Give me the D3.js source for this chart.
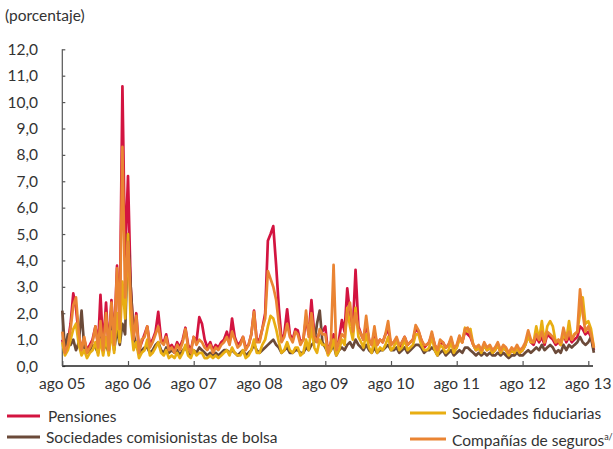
<!DOCTYPE html>
<html><head><meta charset="utf-8">
<script src="https://cdn.jsdelivr.net/npm/d3@7"></script>
<style>
html,body{margin:0;padding:0;background:#fff;}
svg{display:block;font-family:Lato,"Open Sans",sans-serif;}
</style></head>
<body>
<svg id="chart" width="613" height="449"></svg>
<script>
// semi-monthly observations from 1 Aug 2005 (1st and 16th of each month)
const startYear = 2005, startMonth = 7;
const yTicks = [0,1,2,3,4,5,6,7,8,9,10,11,12];
const xTickLabels = ["ago 05","ago 06","ago 07","ago 08","ago 09","ago 10","ago 11","ago 12","ago 13"];
const seriesNames = ["Pensiones","Sociedades comisionistas de bolsa","Sociedades fiduciarias","Compañías de seguros"];

const pensiones = [
 1.0,0.6,0.9,1.6,2.75,2.2,1.1,0.7,1.0,0.6,0.8,1.0,1.5,0.8,2.7,0.7,2.4,0.6,2.5,0.9,3.8,1.6,10.6,4.0,
 7.2,3.0,1.2,2.0,0.6,0.9,1.2,1.5,0.8,1.0,1.3,2.05,1.0,0.9,1.2,0.7,0.8,0.6,0.9,0.7,1.0,1.45,0.8,0.6,
 1.1,0.9,1.85,1.6,1.0,0.7,0.9,0.6,0.8,0.7,0.9,1.0,1.3,0.9,1.8,1.1,0.8,0.9,1.1,0.7,0.8,1.2,2.1,1.0,
 1.0,1.4,2.0,4.75,5.0,5.3,3.8,2.2,1.0,1.2,2.15,1.2,1.0,1.4,1.35,0.9,1.0,1.8,1.2,2.5,1.2,1.0,1.3,1.3,
 1.5,0.5,0.9,1.2,0.6,1.0,1.74,1.3,2.94,2.0,1.4,3.64,1.5,1.2,1.0,1.6,1.0,0.8,1.3,0.8,1.0,0.9,1.2,1.4,
 0.8,0.9,1.0,0.7,0.9,1.1,0.8,0.9,1.0,1.4,1.3,1.0,0.7,0.8,0.9,1.2,0.8,0.6,0.8,0.9,0.7,0.8,1.0,0.6,
 0.7,1.1,0.9,1.3,1.2,1.1,0.8,0.6,0.7,0.5,0.8,0.6,0.7,0.5,0.6,0.8,0.5,0.7,0.6,0.4,0.6,0.5,0.7,0.5,
 0.6,0.8,1.2,0.9,0.8,1.1,0.9,1.1,0.8,1.2,1.1,1.0,0.8,0.9,0.8,1.2,0.9,1.1,0.9,1.0,1.1,1.5,1.4,1.2,
 1.3,1.1,0.6];
const comisionistas = [
 2.1,0.6,1.2,0.8,1.0,0.6,0.9,2.1,0.7,0.5,0.6,0.8,0.7,0.5,1.2,0.6,0.8,0.5,2.2,0.6,1.4,0.8,1.6,1.2,
 5.0,3.0,1.2,0.8,0.5,0.6,0.7,0.7,0.5,0.6,0.8,0.9,0.6,0.5,0.7,0.5,0.6,0.5,0.6,0.4,0.6,0.7,0.5,0.4,
 0.6,0.5,0.7,0.6,0.5,0.4,0.5,0.4,0.5,0.4,0.5,0.6,0.6,0.5,0.6,0.5,0.4,0.5,0.6,0.4,0.5,0.6,0.8,0.6,
 0.5,0.6,0.7,0.8,0.9,1.0,0.8,0.7,0.5,0.6,0.7,0.5,0.5,0.6,0.6,0.5,0.5,0.7,0.6,0.8,0.9,1.6,2.1,0.9,
 0.7,0.5,0.6,0.8,0.4,0.6,0.7,0.6,0.8,0.9,0.7,1.0,0.8,0.7,0.6,0.8,0.6,0.5,0.7,0.5,0.6,0.6,0.7,0.8,
 0.6,0.6,0.7,0.5,0.6,0.7,0.5,0.6,0.7,0.8,0.8,0.7,0.5,0.6,0.6,0.7,0.6,0.4,0.5,0.6,0.4,0.5,0.6,0.4,
 0.5,0.6,0.5,0.7,0.7,0.6,0.5,0.4,0.5,0.4,0.5,0.4,0.5,0.4,0.4,0.5,0.4,0.5,0.4,0.3,0.4,0.4,0.5,0.4,
 0.4,0.5,0.6,0.5,0.6,0.7,0.6,0.8,0.6,0.7,0.8,0.7,0.5,0.6,0.5,0.8,0.6,0.8,0.7,0.8,0.9,1.1,0.9,0.8,
 0.9,1.1,0.5];
const fiduciarias = [
 0.9,0.4,0.6,1.0,1.4,1.6,0.8,0.4,0.6,0.3,0.5,0.6,0.9,0.4,1.0,0.4,1.1,0.4,1.3,0.5,2.0,0.9,3.2,1.8,
 5.0,1.6,0.6,0.9,0.3,0.5,0.6,1.0,0.4,0.5,0.7,0.9,0.5,0.4,0.6,0.3,0.4,0.3,0.5,0.3,0.5,0.8,0.4,0.3,
 0.6,0.4,0.5,0.5,0.3,0.3,0.4,0.3,0.4,0.3,0.4,0.5,0.6,0.4,0.7,0.5,0.4,0.4,0.6,0.3,0.4,0.6,1.0,0.5,
 0.5,0.8,1.0,1.5,1.9,1.8,1.4,0.9,0.5,0.6,0.9,0.6,0.5,0.7,0.7,0.4,0.5,1.0,0.6,1.5,0.7,0.5,1.0,0.8,
 0.8,0.4,0.6,1.0,0.4,0.6,1.0,0.8,2.2,1.5,1.0,2.2,1.1,0.9,0.7,1.2,0.7,0.5,1.0,0.5,0.7,0.6,0.8,1.1,
 0.6,0.7,1.0,0.6,0.7,1.0,0.6,0.7,0.8,1.2,1.2,0.8,0.6,0.6,0.7,1.1,0.6,0.4,0.8,0.7,0.5,0.6,0.9,0.5,
 0.7,1.0,0.9,1.45,1.3,1.4,0.8,0.6,0.7,0.5,0.8,0.6,0.7,0.5,0.6,0.8,0.5,0.7,0.6,0.4,0.6,0.5,0.7,0.5,
 0.6,0.8,1.1,0.9,0.9,1.5,1.0,1.7,0.9,1.5,1.7,1.5,0.9,1.0,0.8,1.2,1.0,1.7,1.0,1.2,1.3,2.0,2.6,1.6,
 1.7,1.4,0.7];
const seguros = [
 1.3,0.5,0.8,1.4,2.3,2.6,1.2,0.6,1.1,0.5,0.7,0.9,1.5,0.7,1.7,0.6,2.0,0.6,2.4,0.8,3.7,1.4,8.3,2.6,
 4.7,2.5,1.0,1.9,0.5,1.0,1.1,1.5,0.7,0.9,1.2,1.5,0.9,0.8,1.1,0.6,0.7,0.5,0.8,0.6,0.9,1.4,0.7,0.5,
 1.1,0.8,1.0,0.9,0.7,0.6,0.8,0.5,0.7,0.6,0.8,0.9,1.1,0.8,1.3,1.0,0.7,0.8,1.1,0.6,0.8,1.2,2.05,0.9,
 0.9,1.4,1.8,3.6,3.3,3.0,2.5,1.6,0.9,1.1,1.6,1.1,0.9,1.3,1.2,0.8,1.0,2.1,1.1,2.0,1.1,0.9,1.4,1.2,
 1.2,0.5,0.9,3.83,0.6,0.9,1.2,1.1,2.0,2.4,1.3,2.0,1.4,1.2,1.0,1.9,1.0,0.8,1.5,0.8,1.0,0.9,1.2,1.7,
 0.8,0.9,1.1,0.8,0.9,1.1,0.8,0.9,1.0,1.55,1.35,1.0,0.8,0.8,0.9,1.3,0.8,0.6,1.0,0.9,0.7,0.8,1.1,0.7,
 0.8,1.15,0.9,1.4,1.45,1.2,0.8,0.7,0.8,0.6,0.9,0.7,0.8,0.6,0.7,0.9,0.6,0.8,0.7,0.5,0.7,0.6,0.8,0.6,
 0.7,0.9,1.35,1.0,0.9,1.2,1.0,1.3,0.9,1.3,1.2,1.1,0.9,1.0,0.9,1.45,1.0,1.3,1.0,1.2,1.3,2.9,2.0,1.3,
 1.5,1.2,0.7];

const colors = ["#d31440","#6b4a39","#e8ae12","#ea8433"];

const dates = d3.range(pensiones.length).map(i =>
  new Date(startYear, startMonth + Math.floor(i/2), i % 2 ? 16 : 1));

const svg = d3.select("#chart");
const x = d3.scaleTime()
  .domain([new Date(2005,7,1), new Date(2013,7,1)])
  .range([62.3, 588.3]);
const y = d3.scaleLinear().domain([0,12]).range([366, 49.3]);

const textColor = "#333";

// y axis
const yAxis = d3.axisRight(y).tickValues(yTicks).tickSize(3).tickFormat("");
const gy = svg.append("g").attr("transform","translate(62.3,0)").call(yAxis);
gy.select(".domain").attr("stroke","#555").attr("stroke-width",1.2).attr("d","M0,49.3V366");
gy.selectAll(".tick line").attr("stroke","#555").attr("stroke-width",1.2);
svg.append("g").selectAll("text").data(yTicks).join("text")
  .attr("x",38).attr("y",d=>y(d)+5.5).attr("text-anchor","end")
  .attr("font-size",15.5).attr("fill",textColor)
  .text(d=>d3.format(".1f")(d).replace(".",","));

// series lines
const line = d3.line().x((d,i)=>x(dates[i])).y(d=>y(d)).curve(d3.curveLinear);
const allSeries = [pensiones, comisionistas, fiduciarias, seguros];
svg.append("g").selectAll("path").data(allSeries).join("path")
  .attr("d", line).attr("fill","none")
  .attr("stroke",(d,i)=>colors[i]).attr("stroke-width",2.7)
  .attr("stroke-linejoin","round");

// x axis
const xTickDates = xTickLabels.map((t,i)=>new Date(2005+i,7,1));
const xAxis = d3.axisTop(x).tickValues(xTickDates).tickSize(5).tickFormat("");
const gx = svg.append("g").attr("transform","translate(0,366)").call(xAxis);
gx.select(".domain").attr("stroke","#222").attr("stroke-width",1.4).attr("d","M62.3,0H593");
gx.selectAll(".tick line").attr("stroke","#555").attr("stroke-width",1.2);
svg.append("g").selectAll("text").data(xTickLabels).join("text")
  .attr("x",(d,i)=>x(xTickDates[i])).attr("y",389).attr("text-anchor","middle")
  .attr("font-size",15.5).attr("fill",textColor).text(d=>d);

// title
svg.append("text").attr("x",5).attr("y",21).attr("font-size",15.5).attr("fill",textColor).text("(porcentaje)");

// legend
const legendItems = [
  {i:0, x1:7, x2:40, ly:416, tx:48, ty:422},
  {i:1, x1:7, x2:40, ly:437, tx:46, ty:443},
  {i:2, x1:410, x2:446, ly:413, tx:452, ty:419},
  {i:3, x1:410, x2:446, ly:439, tx:452, ty:446}
];
const lg = svg.append("g");
legendItems.forEach(it=>{
  lg.append("line").attr("x1",it.x1).attr("x2",it.x2).attr("y1",it.ly).attr("y2",it.ly)
    .attr("stroke",colors[it.i]).attr("stroke-width",3);
  const t = lg.append("text").attr("x",it.tx).attr("y",it.ty).attr("font-size",15.5).attr("fill",textColor)
    .text(seriesNames[it.i]);
  if(it.i===3){ t.append("tspan").attr("font-size",9).attr("dy",-6).text("a/"); }
});
</script>
</body></html>
